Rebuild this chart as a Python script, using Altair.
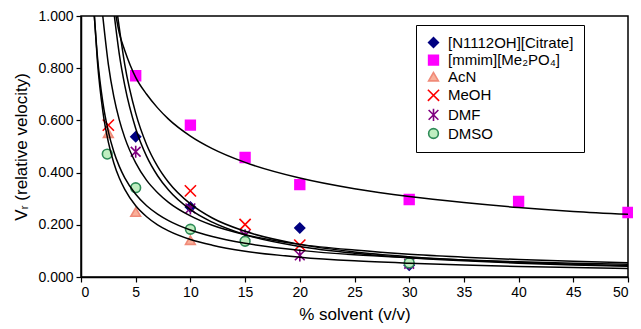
import altair as alt
import pandas as pd

# ---- measured points ----
series = ["[N1112OH][Citrate]", "[mmim][Me\u2082PO\u2084]", "AcN", "MeOH", "DMF", "DMSO"]

citrate_x = [5, 10, 20, 30]
citrate_y = [0.537, 0.268, 0.188, 0.045]
mmim_x = [5, 10, 15, 20, 30, 40, 50]
mmim_y = [0.771, 0.582, 0.458, 0.354, 0.297, 0.290, 0.247]
acn_x = [2.5, 5, 10]
acn_y = [0.551, 0.249, 0.141]
meoh_x = [2.5, 10, 15, 20]
meoh_y = [0.582, 0.330, 0.201, 0.122]
dmf_x = [5, 10, 15, 20, 30]
dmf_y = [0.480, 0.263, 0.160, 0.083, 0.051]
dmso_x = [2.4, 5, 10, 15, 30]
dmso_y = [0.471, 0.342, 0.183, 0.137, 0.054]

# ---- trend curves ----
fit_citrate_x = [3.35, 4, 5, 6, 7, 8, 10, 12, 15, 20, 25, 30, 35, 40, 45, 50]
fit_citrate_y = [1.0, 0.814, 0.628, 0.507, 0.424, 0.363, 0.280, 0.226, 0.175, 0.125, 0.096, 0.078, 0.065, 0.056, 0.049, 0.043]
fit_mmim_x = [3.2, 3.5, 4, 5, 6, 7, 8, 10, 12, 15, 20, 25, 30, 35, 40, 45, 50]
fit_mmim_y = [1.0, 0.935, 0.868, 0.765, 0.700, 0.648, 0.605, 0.540, 0.492, 0.439, 0.379, 0.338, 0.308, 0.285, 0.266, 0.251, 0.240]
fit_acn_x = [1.22, 1.5, 2, 2.5, 3, 3.5, 4, 5, 6, 7, 8, 10, 12, 15, 20, 25, 30, 35, 40, 45, 50]
fit_acn_y = [1.0, 0.827, 0.634, 0.517, 0.437, 0.379, 0.336, 0.273, 0.231, 0.200, 0.177, 0.144, 0.122, 0.099, 0.076, 0.062, 0.053, 0.046, 0.040, 0.036, 0.033]
fit_meoh_x = [1.99, 2.5, 3, 3.5, 4, 5, 6, 7, 8, 10, 12, 15, 20, 25, 30, 35, 40, 45, 50]
fit_meoh_y = [1.0, 0.815, 0.691, 0.602, 0.534, 0.437, 0.370, 0.323, 0.286, 0.234, 0.198, 0.162, 0.125, 0.103, 0.087, 0.076, 0.067, 0.060, 0.055]
fit_dmf_x = [3.05, 3.5, 4, 5, 6, 7, 8, 10, 12, 15, 20, 25, 30, 35, 40, 45, 50]
fit_dmf_y = [1.0, 0.854, 0.734, 0.569, 0.462, 0.388, 0.333, 0.258, 0.210, 0.162, 0.117, 0.091, 0.074, 0.062, 0.053, 0.046, 0.041]
fit_dmso_x = [1.22, 1.5, 2, 2.5, 3, 3.5, 4, 5, 6, 7, 8, 10, 12, 15, 20, 25, 30, 35, 40, 45, 50]
fit_dmso_y = [1.0, 0.845, 0.668, 0.557, 0.480, 0.424, 0.380, 0.317, 0.273, 0.241, 0.216, 0.180, 0.155, 0.129, 0.102, 0.085, 0.074, 0.065, 0.058, 0.053, 0.049]

x_ticks = [0, 5, 10, 15, 20, 25, 30, 35, 40, 45, 50]
y_ticks = [0.0, 0.2, 0.4, 0.6, 0.8, 1.0]

pts = []
for name, xs, ys in zip(series,
                        [citrate_x, mmim_x, acn_x, meoh_x, dmf_x, dmso_x],
                        [citrate_y, mmim_y, acn_y, meoh_y, dmf_y, dmso_y]):
    for x, y in zip(xs, ys):
        pts.append({"series": name, "x": x, "y": y})
pts = pd.DataFrame(pts)

fits = []
for name, xs, ys in zip(series,
                        [fit_citrate_x, fit_mmim_x, fit_acn_x, fit_meoh_x, fit_dmf_x, fit_dmso_x],
                        [fit_citrate_y, fit_mmim_y, fit_acn_y, fit_meoh_y, fit_dmf_y, fit_dmso_y]):
    for x, y in zip(xs, ys):
        fits.append({"fit": name, "x": x, "y": y})
fits = pd.DataFrame(fits)

FONT = "Liberation Sans"
X_PATH = "M-1.15,-1.15L1.15,1.15M-1.15,1.15L1.15,-1.15"
AST_PATH = "M-1,-1L1,1M-1,1L1,-1M0,-1.25L0,1.25"

xscale = alt.Scale(domain=[0, 50], nice=False)
yscale = alt.Scale(domain=[0, 1], nice=False)

xaxis = alt.Axis(values=x_ticks, title="% solvent (v/v)", grid=False, format="d",
                 titlePadding=7)
yaxis = alt.Axis(values=y_ticks, title="V\u1d63 (relative velocity)", grid=False,
                 format=".3f", titlePadding=7)

points = alt.Chart(pts).mark_point(size=95, strokeWidth=1.6, opacity=1).encode(
    x=alt.X("x:Q", scale=xscale, axis=xaxis),
    y=alt.Y("y:Q", scale=yscale, axis=yaxis),
    shape=alt.Shape("series:N", sort=series,
                    scale=alt.Scale(domain=series,
                                    range=["diamond", "square", "triangle-up", X_PATH, AST_PATH, "circle"]),
                    legend=alt.Legend(title=None)),
    fill=alt.Fill("series:N", sort=series,
                  scale=alt.Scale(domain=series,
                                  range=["#000080", "#ff00ff", "#f9b09a", "transparent", "transparent", "#bfeec0"]),
                  legend=alt.Legend(title=None)),
    stroke=alt.Stroke("series:N", sort=series,
                      scale=alt.Scale(domain=series,
                                      range=["#000080", "#ff00ff", "#f08a78", "#ff0000", "#800080", "#2e8b57"]),
                      legend=alt.Legend(title=None)),
)

lines = alt.Chart(fits).mark_line(color="black", strokeWidth=1.5, interpolate="monotone", clip=True).encode(
    x=alt.X("x:Q", scale=xscale),
    y=alt.Y("y:Q", scale=yscale),
    detail="fit:N",
)

chart = alt.layer(points, lines).properties(
    width=547, height=261,
    autosize=alt.AutoSizeParams(type="none"),
    padding={"left": 73, "top": 8, "right": 5, "bottom": 52},
).configure(
    font=FONT
).configure_view(
    stroke="black", strokeWidth=1.5
).configure_axis(
    domainColor="black", domainWidth=1.5, tickColor="black", tickWidth=1.2, tickSize=5,
    labelFont=FONT, labelFontSize=14, labelColor="black", labelPadding=3,
    titleFont=FONT, titleFontSize=17, titleColor="black", titleFontWeight="normal",
).configure_legend(
    orient="none", legendX=335, legendY=9,
    strokeColor="black", fillColor="white", padding=10,
    labelFont=FONT, labelFontSize=15, labelColor="black",
    symbolSize=95, symbolStrokeWidth=1.6, rowPadding=0.6, labelOffset=7,
)

chart.save("out.html", embed_options={"renderer": "svg", "actions": False})
